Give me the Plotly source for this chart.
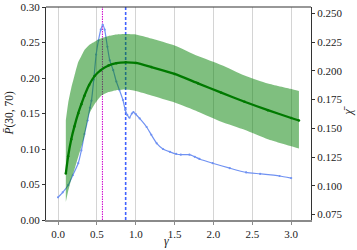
import plotly.graph_objects as go

# --- data ---
gamma_blue = [0.00, 0.06, 0.13, 0.19, 0.26, 0.30, 0.34, 0.38, 0.41, 0.43, 0.46, 0.49,
              0.52, 0.55, 0.575, 0.60, 0.635, 0.665, 0.71, 0.75, 0.79, 0.835, 0.865,
              0.89, 0.92, 0.95, 0.97, 1.00, 1.05, 1.14, 1.20, 1.27, 1.35, 1.44, 1.52,
              1.58, 1.69, 1.76, 1.82, 1.99, 2.21, 2.42, 2.60, 2.85, 3.00]
p_bar = [0.032, 0.039, 0.049, 0.063, 0.080, 0.098, 0.121, 0.140, 0.158, 0.168, 0.198, 0.233,
         0.253, 0.268, 0.275, 0.268, 0.244, 0.225, 0.211, 0.195, 0.183, 0.169, 0.155,
         0.148, 0.144, 0.150, 0.152, 0.149, 0.143, 0.131, 0.120, 0.108, 0.100, 0.096, 0.093,
         0.092, 0.092, 0.089, 0.086, 0.080, 0.073, 0.067, 0.065, 0.062, 0.059]

gamma_green = [0.10, 0.13, 0.17, 0.21, 0.26, 0.30, 0.34, 0.40, 0.47, 0.55, 0.65, 0.75,
               0.87, 1.00, 1.20, 1.50, 1.80, 2.10, 2.40, 2.70, 3.00, 3.10]
chi_mean = [0.1107, 0.1258, 0.1406, 0.1515, 0.1632, 0.1710, 0.1784, 0.1876, 0.1954, 0.2006,
            0.2046, 0.2067, 0.2074, 0.2069, 0.2033, 0.1973, 0.1891, 0.1810, 0.1731, 0.1658,
            0.1590, 0.1568]
chi_upper = [0.1571, 0.1719, 0.1850, 0.1954, 0.2076, 0.2128, 0.2181, 0.2224, 0.2253, 0.2281,
             0.2303, 0.2316, 0.2320, 0.2316, 0.2281, 0.2220, 0.2128, 0.2050, 0.1959, 0.1889,
             0.1841, 0.1824]
chi_lower = [0.0860, 0.0953, 0.1058, 0.1140, 0.1253, 0.1340, 0.1432, 0.1623, 0.1710, 0.1780,
             0.1815, 0.1832, 0.1837, 0.1824, 0.1785, 0.1724, 0.1645, 0.1558, 0.1488, 0.1406,
             0.1345, 0.1325]

gamma_peak_p = 0.571
gamma_peak_chi = 0.87

x_ticks = [0.0, 0.5, 1.0, 1.5, 2.0, 2.5, 3.0]
y_left_ticks = [0.00, 0.05, 0.10, 0.15, 0.20, 0.25, 0.30]
y_right_ticks = [0.075, 0.100, 0.125, 0.150, 0.175, 0.200, 0.225, 0.250]

FONT = "Liberation Serif, Times New Roman, Times, serif"
TXT = "#222222"

fig = go.Figure()

fig.add_trace(go.Scatter(
    x=gamma_blue, y=p_bar, mode="lines+markers", yaxis="y",
    line=dict(color="#7092f2", width=1.2, shape="spline", smoothing=0.5),
    marker=dict(size=2.2, color="#7092f2"), showlegend=False))

fig.add_trace(go.Scatter(
    x=gamma_green, y=chi_lower, mode="lines", yaxis="y2",
    line=dict(width=0, shape="spline", smoothing=0.5, color="rgba(0,128,0,0)"),
    showlegend=False, hoverinfo="skip"))
fig.add_trace(go.Scatter(
    x=gamma_green, y=chi_upper, mode="lines", yaxis="y2",
    line=dict(width=0, shape="spline", smoothing=0.5, color="rgba(0,128,0,0)"),
    fill="tonexty", fillcolor="rgba(0,128,0,0.5)",
    showlegend=False, hoverinfo="skip"))
fig.add_trace(go.Scatter(
    x=gamma_green, y=chi_mean, mode="lines+markers", yaxis="y2",
    line=dict(color="#007a00", width=2.3, shape="spline", smoothing=0.5),
    marker=dict(size=2.5, color="#007a00"), showlegend=False))

fig.add_shape(type="line", xref="x", yref="paper", x0=gamma_peak_p, x1=gamma_peak_p,
              y0=0, y1=1, line=dict(color="#cc00cc", width=1, dash="1.5px,1px"), layer="between")
fig.add_shape(type="line", xref="x", yref="paper", x0=gamma_peak_chi, x1=gamma_peak_chi,
              y0=0, y1=1, line=dict(color="#4060ff", width=1.6, dash="3px,2px"), layer="between")
# top spine
fig.add_shape(type="line", xref="paper", yref="paper", x0=0, x1=1, y0=1, y1=1,
              line=dict(color="#333333", width=1.2))

# axis titles
fig.add_annotation(text="<i>P̄</i>(30, 70)", xref="paper", yref="paper", x=0, y=0.5,
                   xanchor="center", yanchor="middle",
                   xshift=-37, textangle=-90, showarrow=False,
                   font=dict(family=FONT, size=11.5, color=TXT))
fig.add_annotation(text="<i>χ̄</i>", xref="paper", yref="paper", x=1, y=0.5,
                   xanchor="center", yanchor="middle",
                   xshift=36, yshift=2, textangle=-90, showarrow=False,
                   font=dict(family=FONT, size=12, color=TXT))
fig.add_annotation(text="<i>γ</i>", xref="paper", yref="paper", x=0.453, y=0,
                   xanchor="center", yshift=-21, yanchor="middle", showarrow=False,
                   font=dict(family=FONT, size=12, color=TXT))

fig.update_layout(
    width=357, height=250,
    margin=dict(l=46, r=46, t=7, b=30, autoexpand=False),
    paper_bgcolor="white", plot_bgcolor="white",
    font=dict(family=FONT, size=11, color=TXT),
    xaxis=dict(range=[-0.155, 3.255], tickvals=x_ticks, tickformat=".1f",
               showgrid=True, gridcolor="#d4d4d4", gridwidth=1,
               showline=True, linecolor="#8a8a8a", linewidth=2,
               ticks="outside", ticklen=3, tickcolor="#8a8a8a",
               zeroline=False, automargin=False),
    yaxis=dict(range=[0, 0.30], tickvals=y_left_ticks, tickformat=".2f",
               showgrid=False, zeroline=False, automargin=False,
               showline=True, linecolor="#333333", linewidth=1.2,
               ticks="outside", ticklen=3, tickcolor="#333333"),
    yaxis2=dict(range=[0.0703, 0.2555], tickvals=y_right_ticks, tickformat=".3f",
                overlaying="y", side="right", showgrid=False, zeroline=False, automargin=False,
                showline=True, linecolor="#333333", linewidth=1.2,
                ticks="outside", ticklen=3, tickcolor="#333333"),
)

fig.write_html("out.html", config={"displayModeBar": False},
               post_script="document.body.style.margin='0px';document.body.style.overflow='hidden';")
